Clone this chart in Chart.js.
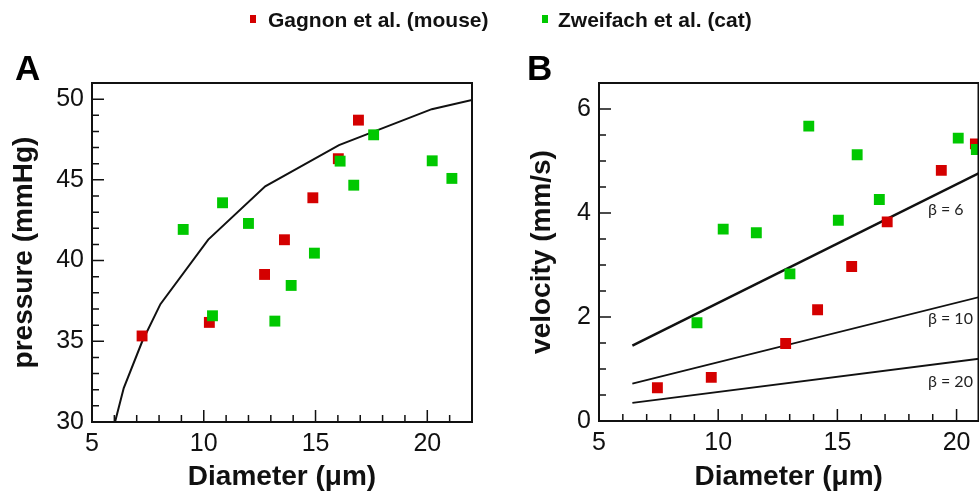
<!DOCTYPE html>
<html><head><meta charset="utf-8">
<script src="https://cdn.jsdelivr.net/npm/chart.js@4.4.1/dist/chart.umd.min.js"></script>
<style>
html,body{margin:0;padding:0;background:#fff;}
body{width:979px;height:498px;overflow:hidden;position:relative;font-family:"Liberation Sans",Arial,sans-serif;}
#wrapA{position:absolute;left:0;top:0;width:490px;height:498px;}
#wrapB{position:absolute;left:490px;top:0;width:489px;height:498px;}
.panel{position:absolute;top:50px;font-weight:bold;font-size:35px;line-height:35px;color:#000;}
.leg{position:absolute;top:9px;font-weight:bold;font-size:21px;line-height:21px;color:#111;white-space:nowrap;}
.sw{position:absolute;top:15px;width:6px;height:8px;}
</style></head><body>
<div id="wrapA"><canvas id="cA" width="490" height="498"></canvas></div>
<div id="wrapB"><canvas id="cB" width="489" height="498"></canvas></div>
<div class="sw" style="left:250px;background:#d40000"></div>
<div class="leg" style="left:268px">Gagnon et al. (mouse)</div>
<div class="sw" style="left:542px;background:#00c800"></div>
<div class="leg" style="left:558px">Zweifach et al. (cat)</div>
<div class="panel" style="left:15px">A</div>
<div class="panel" style="left:527px">B</div>
<script>
// ---------- Panel A data ----------
const diamRedA   = [7.24, 10.25, 12.72, 13.61, 14.88, 16.02, 16.92];
const presRedA   = [35.33, 36.17, 39.14, 41.29, 43.89, 46.31, 48.70];
const diamGreenA = [9.08, 10.84, 10.39, 12.0, 13.18, 13.91, 14.95, 16.10, 16.71, 17.6, 20.22, 21.1];
const presGreenA = [41.93, 43.58, 36.58, 42.30, 36.25, 38.46, 40.46, 46.16, 44.67, 47.79, 46.18, 45.09];
const modelDiamA = [6.03, 6.42, 7.24, 8.06, 10.2, 12.75, 16.05, 20.2, 22];
const modelPresA = [30, 32.1, 34.97, 37.3, 41.3, 44.6, 47.15, 49.38, 49.95];
const xTicksA = [5, 10, 15, 20];
const xMinorA = [6, 7, 8, 9, 11, 12, 13, 14, 16, 17, 18, 19, 21];
const yTicksA = [30, 35, 40, 45, 50];
const yMinorA = [31, 32, 33, 34, 36, 37, 38, 39, 41, 42, 43, 44, 46, 47, 48, 49, 51];

// ---------- Panel B data ----------
const diamRedB   = [7.45, 9.71, 12.83, 14.17, 15.60, 17.09, 19.36, 20.79];
const velRedB    = [0.64, 0.84, 1.49, 2.14, 2.97, 3.83, 4.82, 5.33];
const diamGreenB = [9.11, 10.21, 11.60, 13.01, 13.80, 15.04, 15.83, 16.76, 20.07, 20.83];
const velGreenB  = [1.89, 3.69, 3.62, 2.83, 5.67, 3.86, 5.12, 4.26, 5.44, 5.22];
const betaDiam   = [6.4, 21];
const beta6Vel   = [1.45, 4.78];
const beta10Vel  = [0.72, 2.39];
const beta20Vel  = [0.35, 1.20];
const betaLabels = ['β = 6', 'β = 10', 'β = 20'];
const betaLabelDiam = [18.8, 18.8, 18.8];
const betaLabelVel  = [4.06, 1.97, 0.76];
const xTicksB = [5, 10, 15, 20];
const xMinorB = [6, 7, 8, 9, 11, 12, 13, 14, 16, 17, 18, 19];
const yTicksB = [0, 2, 4, 6];
const yMinorB = [0.5, 1, 1.5, 2.5, 3, 3.5, 4.5, 5, 5.5, 6.5];

const RED = '#d40000', GREEN = '#00c800';
const FONT = "'Liberation Sans', Arial, sans-serif";

const pts = (xs, ys) => xs.map((x, i) => ({x, y: ys[i]}));

const frameTicks = {
  id: 'frameTicks',
  afterDraw(chart, args, o) {
    const {ctx, chartArea: a, scales: {x, y}} = chart;
    ctx.save();
    ctx.strokeStyle = '#111';
    ctx.lineWidth = 1.5;
    ctx.beginPath();
    const xt = (vals, len) => vals.forEach(v => { const px = x.getPixelForValue(v); if (px < a.left - 1 || px > a.right + 1) return; ctx.moveTo(px, a.bottom); ctx.lineTo(px, a.bottom - len); });
    const yt = (vals, len) => vals.forEach(v => { const py = y.getPixelForValue(v); if (py < a.top - 1 || py > a.bottom + 1) return; ctx.moveTo(a.left, py); ctx.lineTo(a.left + len, py); });
    xt(o.xMajor, 12); xt(o.xMinor, 7);
    yt(o.yMajor, 12); yt(o.yMinor, 7);
    ctx.stroke();
    ctx.lineWidth = 2;
    ctx.strokeRect(a.left, a.top, a.right - a.left, a.bottom - a.top);
    ctx.restore();
  }
};

const betaText = {
  id: 'betaText',
  afterDatasetsDraw(chart, args, o) {
    if (!o.labels) return;
    const {ctx, scales: {x, y}} = chart;
    ctx.save();
    ctx.font = "16px Lato, 'Open Sans', sans-serif";
    ctx.fillStyle = '#222';
    ctx.textAlign = 'left';
    ctx.textBaseline = 'middle';
    o.labels.forEach((t, i) => ctx.fillText(t, x.getPixelForValue(o.xs[i]), y.getPixelForValue(o.ys[i])));
    ctx.restore();
  }
};

function makeChart(id, cfg) {
  return new Chart(document.getElementById(id), {
    type: 'scatter',
    data: {datasets: cfg.datasets},
    plugins: [frameTicks, betaText],
    options: {
      responsive: false, animation: false, devicePixelRatio: 1,
      layout: {autoPadding: false, padding: cfg.padding},
      plugins: {
        legend: {display: false}, tooltip: {enabled: false},
        frameTicks: {xMajor: cfg.xTicks, xMinor: cfg.xMinor, yMajor: cfg.yTicks, yMinor: cfg.yMinor},
        betaText: cfg.beta || {}
      },
      scales: {
        x: {
          type: 'linear', min: cfg.xMin, max: cfg.xMax,
          afterBuildTicks: s => { s.ticks = cfg.xTicks.map(v => ({value: v})); },
          afterFit: s => { s.height = cfg.xHeight; },
          grid: {display: false, drawTicks: false},
          border: {display: false},
          ticks: {autoSkip: false, maxRotation: 0, padding: 7, color: '#111', font: {family: FONT, size: 25}},
          title: {display: true, text: 'Diameter (μm)', color: '#111', padding: {top: 0, bottom: 4}, font: {family: FONT, size: 28, weight: 'bold'}}
        },
        y: {
          type: 'linear', min: cfg.yMin, max: cfg.yMax,
          afterBuildTicks: s => { s.ticks = cfg.yTicks.map(v => ({value: v})); },
          afterFit: s => { s.width = cfg.yWidth; },
          grid: {display: false, drawTicks: false},
          border: {display: false},
          ticks: {autoSkip: false, padding: 8, color: '#111', font: {family: FONT, size: 25}},
          title: {display: true, text: cfg.yTitle, color: '#111', padding: {top: cfg.yTitlePad, bottom: 0}, font: {family: FONT, size: 28, weight: 'bold'}}
        }
      }
    }
  });
}

const sq = (data, color) => ({data, pointStyle: 'rect', pointRadius: 7.7, pointBackgroundColor: color, pointBorderWidth: 0, borderColor: color, backgroundColor: color, showLine: false, clip: 0});
const ln = (data, w) => ({data, showLine: true, pointRadius: 0, borderColor: '#111', borderWidth: w, backgroundColor: '#111', tension: 0, clip: 0});

makeChart('cA', {
  datasets: [sq(pts(diamGreenA, presGreenA), GREEN), sq(pts(diamRedA, presRedA), RED), ln(pts(modelDiamA, modelPresA), 2)],
  padding: {left: 0, top: 83, right: 18, bottom: 0},
  xMin: 5, xMax: 22, yMin: 30, yMax: 51,
  xTicks: xTicksA, xMinor: xMinorA, yTicks: yTicksA, yMinor: yMinorA,
  xHeight: 76, yWidth: 92, yTitle: 'pressure (mmHg)', yTitlePad: 7.5
});

makeChart('cB', {
  datasets: [sq(pts(diamGreenB, velGreenB), GREEN), sq(pts(diamRedB, velRedB), RED),
             ln(pts(betaDiam, beta6Vel), 2.6), ln(pts(betaDiam, beta10Vel), 1.8), ln(pts(betaDiam, beta20Vel), 1.8)],
  padding: {left: 0, top: 83, right: 0.5, bottom: 0},
  xMin: 5, xMax: 20.92, yMin: 0, yMax: 6.5,
  xTicks: xTicksB, xMinor: xMinorB, yTicks: yTicksB, yMinor: yMinorB,
  xHeight: 77, yWidth: 109, yTitle: 'velocity (mm/s)', yTitlePad: 35.5,
  beta: {labels: betaLabels, xs: betaLabelDiam, ys: betaLabelVel}
});
</script>
</body></html>
